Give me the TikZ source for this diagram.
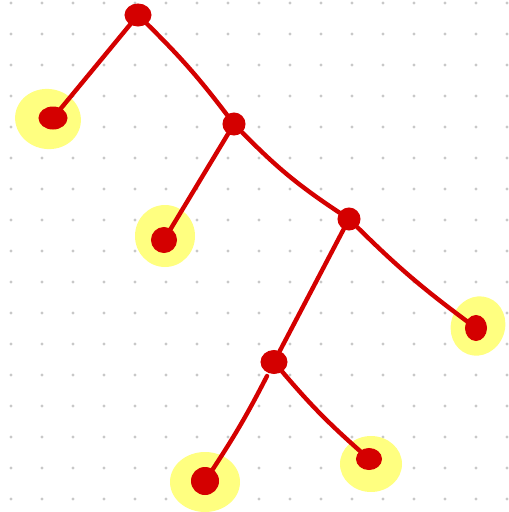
\documentclass[tikz,border=0pt]{standalone}
\usetikzlibrary{shapes.geometric}
\definecolor{inkred}{RGB}{212,0,0}
\definecolor{hilite}{RGB}{255,255,128}
\definecolor{griddot}{RGB}{200,200,200}
\begin{document}
\begin{tikzpicture}[x=1pt,y=-1pt,
  vtx/.style={circle,fill=inkred,draw=inkred,line width=1pt,minimum size=22pt,inner sep=0pt},
  leaf/.style={circle,fill=inkred,draw=inkred,line width=1pt,minimum size=22pt,inner sep=0pt},
  glow/.style={ellipse,fill=hilite,draw=none,inner sep=0pt},
  edge/.style={draw=inkred,line width=4.4pt,line cap=round}]
\useasboundingbox (0,0) rectangle (509,512);
\fill[white] (0,0) rectangle (509,512);
\foreach \i in {0,...,16}{\foreach \j in {0,...,16}{
  \fill[griddot] (11+31*\i,3+31*\j) circle (1.6);}}
% highlights
\node[glow,minimum width=66pt,minimum height=60pt,rotate=-10] (ga) at (48,119) {};
\node[glow,minimum width=60pt,minimum height=62pt] (gc) at (165,236) {};
\node[glow,minimum width=54pt,minimum height=60pt,rotate=-20] (ge) at (478,326) {};
\node[glow,minimum width=70pt,minimum height=60pt] (gg) at (205,482) {};
\node[glow,minimum width=62pt,minimum height=56pt] (gh) at (371,464) {};
% vertices
\node[vtx,minimum width=26pt,minimum height=22pt,ellipse] (r) at (138,15) {};
\node[leaf,ellipse,minimum width=28pt,minimum height=22pt] (a) at (53,118) {};
\node[vtx,minimum size=22pt] (b) at (234,124) {};
\node[leaf,minimum size=25pt] (c) at (164,240) {};
\node[vtx,minimum size=22pt] (d) at (349,219) {};
\node[leaf,ellipse,minimum width=21pt,minimum height=25pt] (e) at (476,328) {};
\node[vtx,ellipse,minimum width=26pt,minimum height=23pt] (f) at (274,362) {};
\node[leaf,minimum size=27pt] (g) at (205,481) {};
\node[leaf,minimum width=25pt,minimum height=21pt,ellipse] (h) at (369,459) {};
% edges
\draw[edge] (r) -- (a);
\draw[edge] (r) to[bend left=4] (b);
\draw[edge] (b) -- (c);
\draw[edge] (b) to[bend right=6] (d);
\draw[edge] (d) to[bend right=4] (e);
\draw[edge] (d) -- (f);
\draw[edge] ([shift={(-7,14)}]f.center) to[bend left=3] (g);
\draw[edge] (f) to[bend right=4] (h);
\end{tikzpicture}
\end{document}
